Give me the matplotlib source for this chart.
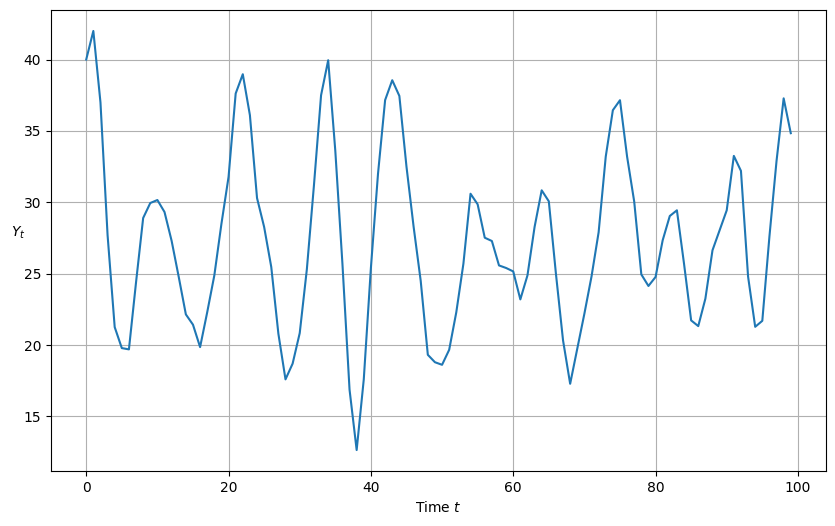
import numpy as np
import matplotlib
matplotlib.use("Agg")
import matplotlib.pyplot as plt

# values, t = 0..99
y_vals = [
    40.0, 42.0, 37.0, 27.7, 21.26, 19.79, 19.70, 24.4, 28.9, 29.95,
    30.16, 29.32, 27.3, 24.77, 22.15, 21.43, 19.86, 22.3, 24.88, 28.5,
    31.78, 37.62, 38.97, 36.1, 30.3, 28.27, 25.47, 20.8, 17.6, 18.7,
    20.84, 25.3, 31.2, 37.5, 39.95, 33.6, 25.7, 16.88, 12.65, 17.6,
    25.4, 32.0, 37.16, 38.55, 37.45, 32.5, 28.3, 24.5, 19.32, 18.8,
    18.62, 19.67, 22.3, 25.7, 30.6, 29.86, 27.52, 27.29, 25.58, 25.4,
    25.16, 23.2, 24.88, 28.27, 30.84, 30.07, 25.0, 20.33, 17.29, 19.75,
    22.2, 24.8, 27.9, 33.2, 36.45, 37.15, 33.2, 30.05, 24.95, 24.14,
    24.77, 27.34, 29.04, 29.44, 25.7, 21.73, 21.33, 23.25, 26.64, 28.04,
    29.44, 33.25, 32.2, 24.8, 21.28, 21.7, 27.6, 32.9, 37.28, 34.84,
]
t = np.arange(len(y_vals))

fig = plt.figure(figsize=(8.35, 5.26), dpi=100)
ax = fig.add_axes([51 / 835, 1 - 471 / 526, 775 / 835, 461 / 526])
ax.plot(t, y_vals, color='#1f77b4', linewidth=1.5)
ax.set_xlabel('Time $t$')
ax.set_ylabel('$Y_t$', rotation=0)
ax.grid(True)

fig.savefig('out.png', dpi=100)
